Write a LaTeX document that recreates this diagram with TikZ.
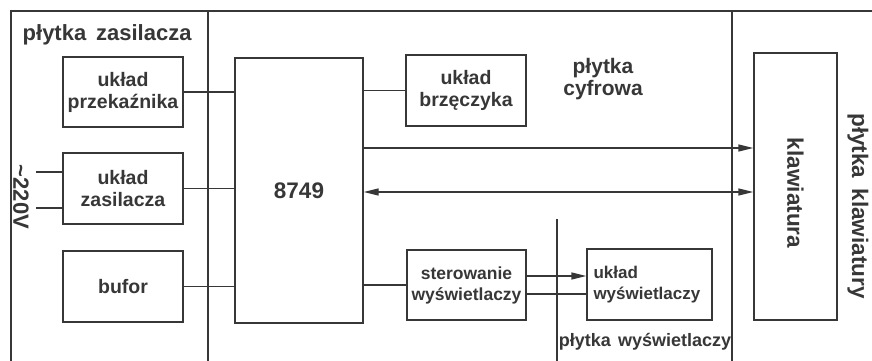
\documentclass[tikz,border=0pt]{standalone}
\usepackage{fontspec}
\setmainfont{Liberation Sans}
\usetikzlibrary{arrows.meta}
\definecolor{ink}{RGB}{55,55,55}
\begin{document}
\begin{tikzpicture}[x=1pt,y=-1pt,
  line width=1.4pt, draw=ink,
  blk/.style={draw=ink, line width=1.4pt, inner sep=0pt, align=center,
    font=\fontsize{19.5}{22}\selectfont\bfseries, text=ink},
  lbl/.style={inner sep=0pt, align=center, font=\fontsize{22}{24}\selectfont\bfseries, text=ink},
  tip/.style={-{Triangle[length=15pt,width=7pt]}},
  tips/.style={{Triangle[length=15pt,width=7pt]}-{Triangle[length=15pt,width=7pt]}}]
\fill[white] (0,0) rectangle (872,361);
\useasboundingbox (0,0) rectangle (872,361);
% frames
\draw[ink] (11,361) -- (11,11) -- (872,11);
\draw[ink] (208,11) -- (208,361);
\draw[ink] (732,11) -- (732,361);
\draw[ink] (557,219) -- (557,361);
% labels
\node[lbl, anchor=west] (lz) at (22,35) {płytka\hspace{0.45em}zasilacza};
\node[lbl, font=\fontsize{21}{22}\selectfont\bfseries] (lc) at (603,79) {płytka\\cyfrowa};
\node[lbl, rotate=-90, font=\fontsize{22.5}{24}\selectfont\bfseries] (lk) at (858,206) {płytka\hspace{0.45em}klawiatury};
\node[lbl, font=\fontsize{18}{18}\selectfont\bfseries] (lw) at (645,342) {płytka\hspace{0.4em}wyświetlaczy};
\node[lbl, rotate=-90, font=\fontsize{22}{22}\selectfont\bfseries] (lv) at (21,197) {\textasciitilde220V};
% blocks
\node[blk, minimum width=120pt, minimum height=70pt] (prz) at (123,92) {układ\\przekaźnika};
\node[blk, minimum width=120pt, minimum height=71pt] (zas) at (123,188.5) {układ\\zasilacza};
\node[blk, minimum width=120pt, minimum height=71pt] (buf) at (123,286.5) {bufor};
\node[blk, minimum width=128pt, minimum height=265pt, font=\fontsize{22.5}{22.5}\selectfont\bfseries] (cpu) at (299,190.5) {8749};
\node[blk, minimum width=120pt, minimum height=71pt] (brz) at (466,90.5) {układ\\brzęczyka};
\node[blk, minimum width=119pt, minimum height=70pt, font=\fontsize{17.5}{21}\selectfont\bfseries] (ster) at (466.5,285) {sterowanie\\wyświetlaczy};
\node[blk, minimum width=125pt, minimum height=71pt, text width=112pt, align=left, font=\fontsize{17}{21}\selectfont\bfseries] (wys) at (649.5,284.5) {układ\\wyświetlaczy};
\node[blk, minimum width=83pt, minimum height=267pt] (kl) at (795.5,186.5) {};
\node[lbl, rotate=-90, font=\fontsize{22.5}{23}\selectfont\bfseries] (klt) at (795.5,193) {klawiatura};
% coordinates
\coordinate (a1) at (0,148);
\coordinate (a2) at (0,192);
\coordinate (s1) at (0,276);
\coordinate (s2) at (0,294);
\coordinate (v1) at (36,172);
\coordinate (v2) at (36,208);
% connectors
\draw (prz.east) -- (prz.east -| cpu.west);
\draw (zas.east) -- (zas.east -| cpu.west);
\draw (buf.east) -- (buf.east -| cpu.west);
\draw (cpu.east |- brz.west) -- (brz.west);
\draw (cpu.east |- ster.west) -- (ster.west);
\draw[tip] (cpu.east |- a1) -- (kl.west |- a1);
\draw[tips] (cpu.east |- a2) -- (kl.west |- a2);
\draw[tip] (ster.east |- s1) -- (wys.west |- s1);
\draw (ster.east |- s2) -- (wys.west |- s2);
\draw (v1) -- (zas.west |- v1);
\draw (v2) -- (zas.west |- v2);
\end{tikzpicture}
\end{document}
